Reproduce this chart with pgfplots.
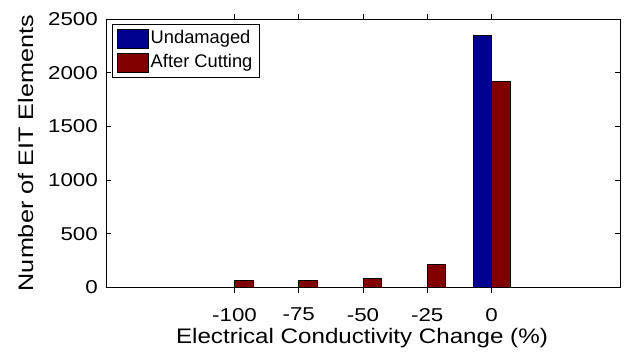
\documentclass[border=0pt]{standalone}
\usepackage{fontspec}
\setmainfont{Liberation Sans}
\newfontfamily\tickfont{Liberation Sans}[FakeStretch=1.2]
\newfontfamily\xlabfont{Liberation Sans}[FakeStretch=1.15]
\newfontfamily\ylabfont{Liberation Sans}[FakeStretch=1.2]
\usepackage{pgfplots}
\pgfplotsset{compat=1.18}
\definecolor{mblue}{RGB}{0,0,143}
\definecolor{mred}{RGB}{128,0,0}
\begin{document}
\begin{tikzpicture}
\begin{axis}[
  scale only axis, width=514pt, height=268.5pt,
  xmin=-150, xmax=50, ymin=0, ymax=2500,
  xtick={-100,-75,-50,-25,0}, xticklabels={-100,-75,-50,-25,0},
  ytick={0,500,1000,1500,2000,2500}, yticklabels={0,500,1000,1500,2000,2500},
  tick align=inside, major tick length=5pt, xtick pos=both, ytick pos=both,
  axis line style={line width=0.8pt},
  every tick/.style={black, line width=0.8pt},
  xticklabel style={font=\tickfont\fontsize{18.6}{18.6}\selectfont, anchor=north, inner sep=0pt, yshift=-15.5pt},
  yticklabel style={font=\tickfont\fontsize{18.6}{18.6}\selectfont, anchor=east, inner sep=0pt, xshift=-8pt},
  xlabel={Electrical Conductivity Change (\%)},
  ylabel={Number of EIT Elements},
  every axis x label/.style={at={(axis description cs:0.498,-0.2104)}, anchor=base, font=\xlabfont\fontsize{21}{21}\selectfont},
  every axis y label/.style={at={(axis description cs:-0.142,0.5)}, anchor=base, rotate=90, font=\ylabfont\fontsize{21}{21}\selectfont},
  ybar, bar width=7.2,
  legend style={at={(axis description cs:0.0117,0.9814)}, anchor=north west, draw=black, line width=0.8pt, inner sep=4.5pt, font=\fontsize{18.3}{18.3}\selectfont, row sep=4pt, column sep=0pt, nodes={inner xsep=2pt, inner ysep=1pt, text height=13.5pt, text depth=4pt}},
  legend cell align=left,
  legend image code/.code={\draw[#1, line width=0.8pt] (0pt,-9.5pt) rectangle (31pt,9.5pt);},
]
\addplot[fill=mblue, draw=black, line width=0.8pt, bar shift=-3.6] coordinates {(0,2344)};
\addplot[fill=mred, draw=black, line width=0.8pt, bar shift=3.6] coordinates {(-100,65) (-75,65) (-50,88) (-25,216) (0,1916)};
\legend{Undamaged, After Cutting}
\end{axis}
\pgfresetboundingbox
\path[use as bounding box] ([shift={(-106pt,-64.5pt)}]current axis.south west) rectangle ([shift={(16pt,19pt)}]current axis.north east);
\end{tikzpicture}
\end{document}
